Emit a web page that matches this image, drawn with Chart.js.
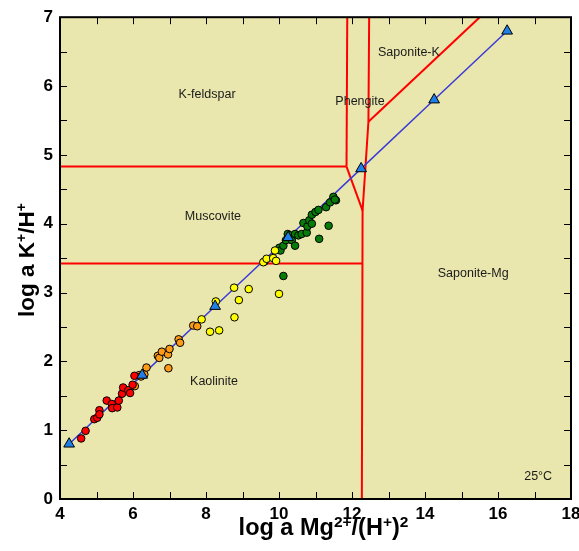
<!DOCTYPE html>
<html>
<head>
<meta charset="utf-8">
<script src="https://cdn.jsdelivr.net/npm/chart.js@4.4.1/dist/chart.umd.min.js"></script>
<style>
  body { margin: 0; background: #fff; }
  #wrap { width: 579px; height: 551px; }
</style>
</head>
<body>
<div id="wrap"><canvas id="diagram" width="579" height="551"></canvas></div>
<script>
// axis ranges
const xRange = [4, 18];
const yRange = [0, 7];

// water samples, coloured by group  [log a Mg2+/(H+)^2, log a K+/H+]
const redSamples = [[4.58,0.88],[4.70,0.99],[4.94,1.16],[5.02,1.18],[5.08,1.29],[5.08,1.23],[5.28,1.43],
  [5.42,1.38],[5.43,1.32],[5.57,1.33],[5.61,1.43],[5.70,1.53],[5.73,1.62],[5.87,1.58],[5.92,1.54],
  [5.99,1.66],[6.04,1.79]];
const orangeSamples = [[6.05,1.64],[6.17,1.80],[6.22,1.78],[6.31,1.81],[6.37,1.91],[6.68,2.08],[6.72,2.05],
  [6.79,2.14],[6.96,2.10],[7.00,2.18],[6.97,1.90],[7.25,2.32],[7.29,2.27],[7.65,2.52],[7.76,2.51]];
const yellowSamples = [[7.88,2.61],[8.11,2.43],[8.36,2.45],[8.27,2.87],[8.77,3.07],[8.78,2.64],[8.90,2.89],
  [9.17,3.05],[10.00,2.98],[9.57,3.44],[9.66,3.49],[9.84,3.50],[9.92,3.46],[9.89,3.61]];
const greenSamples = [[9.60,3.45],[10.12,3.24],[10.01,3.65],[10.04,3.61],[10.12,3.68],[10.19,3.76],[10.24,3.85],
  [10.30,3.83],[10.35,3.76],[10.44,3.68],[10.44,3.85],[10.53,3.83],[10.62,3.85],[10.67,4.01],[10.76,3.87],
  [10.78,3.96],[10.83,4.05],[10.90,4.13],[10.90,4.00],[11.00,4.17],[11.08,4.20],[11.10,3.78],[11.29,4.24],
  [11.36,3.97],[11.40,4.31],[11.49,4.39],[11.56,4.34],[11.53,4.35]];

// reaction path (triangles)
const pathX = [4.25, 6.25, 8.25, 10.25, 12.25, 14.25, 16.25];
const pathY = [0.8, 1.8, 2.8, 3.8, 4.8, 5.8, 6.8];

// stability field boundaries
const kfsMuscovite = [[4,4.83],[11.85,4.83]];
const kfsPhengite = [[11.85,4.83],[11.87,7]];
const muscovitePhengite = [[11.85,4.83],[12.29,4.19]];
const saponiteMgEdge = [[12.47,7],[12.45,5.48],[12.29,4.19],[12.27,0]];
const muscoviteKaolinite = [[4,3.42],[12.28,3.42]];
const saponiteKEdge = [[12.45,5.48],[15.5,7]];

// field names  [text, x, y]
const fieldLabels = [
  ["K-feldspar", 8.03, 5.88],
  ["Muscovite", 8.19, 4.10],
  ["Phengite", 12.22, 5.77],
  ["Saponite-K", 13.56, 6.48],
  ["Saponite-Mg", 15.32, 3.28],
  ["Kaolinite", 8.22, 1.70],
  ["25°C", 17.10, 0.32]
];

const FONT = "'Liberation Sans', Arial, sans-serif";
const toPts = arr => arr.map(p => ({ x: p[0], y: p[1] }));

function boundary(arr) {
  return { type: "line", data: toPts(arr), borderColor: "#ff0000", borderWidth: 2,
    pointRadius: 0, fill: false, order: 10 };
}
function samples(arr, color) {
  return { type: "scatter", data: toPts(arr), backgroundColor: color, borderColor: "#000",
    borderWidth: 1, pointRadius: 3.8, order: 5 };
}

// draws a string with superscript parts: [[text, isSup], ...]
function drawRich(ctx, parts, size, supSize) {
  let w = 0;
  parts.forEach(p => {
    ctx.font = "bold " + (p[1] ? supSize : size) + "px " + FONT;
    w += ctx.measureText(p[0]).width;
  });
  let x = -w / 2;
  parts.forEach(p => {
    ctx.font = "bold " + (p[1] ? supSize : size) + "px " + FONT;
    ctx.fillText(p[0], x, p[1] ? -8 : 0);
    x += ctx.measureText(p[0]).width;
  });
}

const decorations = {
  id: "decorations",
  beforeDraw(chart) {
    const { ctx, chartArea: a } = chart;
    ctx.save();
    ctx.fillStyle = "#e9e7ad";
    ctx.fillRect(a.left, a.top, a.right - a.left, a.bottom - a.top);
    ctx.restore();
  },
  afterDraw(chart) {
    const { ctx, chartArea: a, scales } = chart;
    const xs = scales.x, ys = scales.y;
    ctx.save();
    // inward ticks
    ctx.strokeStyle = "#000";
    ctx.lineWidth = 1;
    ctx.beginPath();
    for (let v = xRange[0]; v <= xRange[1]; v += 1) {
      const px = Math.round(xs.getPixelForValue(v)) + 0.5;
      ctx.moveTo(px, a.bottom); ctx.lineTo(px, a.bottom - 7);
      ctx.moveTo(px, a.top); ctx.lineTo(px, a.top + 7);
    }
    for (let v = yRange[0]; v <= yRange[1]; v += 0.5) {
      const py = Math.round(ys.getPixelForValue(v)) + 0.5;
      ctx.moveTo(a.left, py); ctx.lineTo(a.left + 7, py);
      ctx.moveTo(a.right, py); ctx.lineTo(a.right - 7, py);
    }
    ctx.stroke();
    // frame
    ctx.lineWidth = 2;
    ctx.strokeRect(a.left, a.top, a.right - a.left, a.bottom - a.top);

    // field names
    ctx.fillStyle = "#1a1a1a";
    ctx.font = "12.5px " + FONT;
    ctx.textAlign = "center";
    ctx.textBaseline = "middle";
    fieldLabels.forEach(l => {
      ctx.fillText(l[0], xs.getPixelForValue(l[1]), ys.getPixelForValue(l[2]));
    });

    // axis titles
    ctx.fillStyle = "#000";
    ctx.textAlign = "left";
    ctx.textBaseline = "alphabetic";
    ctx.save();
    ctx.translate((a.left + a.right) / 2 + 8, 535);
    drawRich(ctx, [["log a Mg", false], ["2+", true], ["/(H", false], ["+", true], [")", false], ["2", true]], 23.5, 15.5);
    ctx.restore();
    ctx.save();
    ctx.translate(34, (a.top + a.bottom) / 2 + 2);
    ctx.rotate(-Math.PI / 2);
    drawRich(ctx, [["log a K", false], ["+", true], ["/H", false], ["+", true]], 22.5, 14);
    ctx.restore();
    ctx.restore();
  }
};

new Chart(document.getElementById("diagram"), {
  type: "scatter",
  data: {
    datasets: [
      { type: "scatter", data: pathX.map((x, i) => ({ x: x, y: pathY[i] })), pointStyle: "triangle",
        pointRadius: 6.2, backgroundColor: "#1f7fe8", borderColor: "#000", borderWidth: 1, order: 1 },
      { type: "line", data: pathX.map((x, i) => ({ x: x, y: pathY[i] })), borderColor: "#3b3bd8",
        borderWidth: 1.5, pointRadius: 0, fill: false, order: 8 },
      samples(redSamples, "#ff0000"),
      samples(orangeSamples, "#ff9a14"),
      samples(yellowSamples, "#ffff00"),
      samples(greenSamples, "#087c08"),
      boundary(kfsMuscovite),
      boundary(kfsPhengite),
      boundary(muscovitePhengite),
      boundary(saponiteMgEdge),
      boundary(muscoviteKaolinite),
      boundary(saponiteKEdge)
    ]
  },
  options: {
    responsive: false,
    animation: false,
    layout: { padding: { top: 16, right: 8, left: 0, bottom: 0 } },
    plugins: { legend: { display: false }, tooltip: { enabled: false } },
    scales: {
      x: {
        type: "linear", min: xRange[0], max: xRange[1],
        grid: { display: false, drawTicks: false }, border: { display: false },
        ticks: { stepSize: 1, autoSkip: false, maxRotation: 0, padding: 5, color: "#000",
          font: { family: FONT, size: 17, weight: "bold" },
          callback: v => (v % 2 === 0 ? v : "") },
        afterFit: s => { s.height = 52; s.paddingRight = 0; s.paddingLeft = 0; }
      },
      y: {
        type: "linear", min: yRange[0], max: yRange[1],
        grid: { display: false, drawTicks: false }, border: { display: false },
        ticks: { stepSize: 1, padding: 7, color: "#000",
          font: { family: FONT, size: 17, weight: "bold" } },
        afterFit: s => { s.width = 60; }
      }
    }
  },
  plugins: [decorations]
});
</script>
</body>
</html>
